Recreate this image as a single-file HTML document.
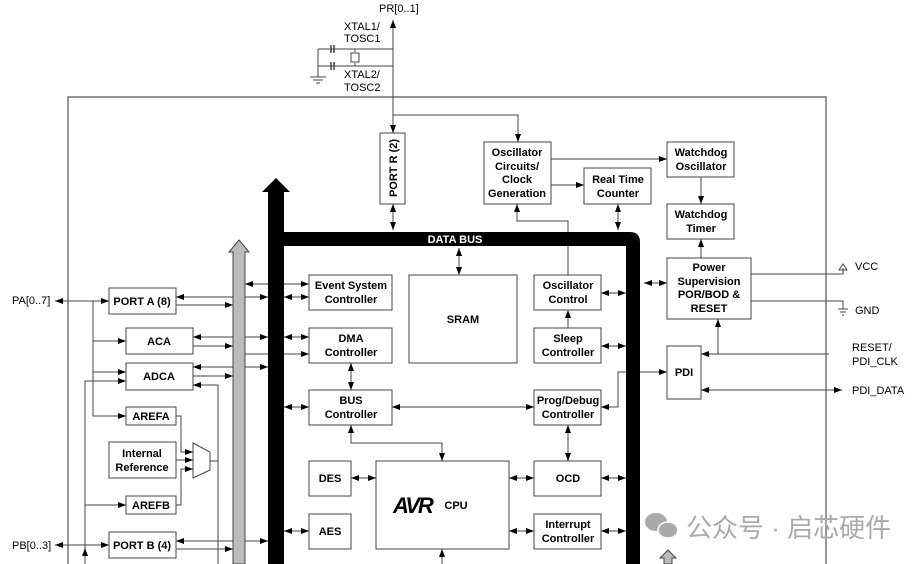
<!DOCTYPE html>
<html><head><meta charset="utf-8"><style>
html,body{margin:0;padding:0;background:#fff;}
svg{display:block;}
text{font-family:"Liberation Sans",Arial,sans-serif;}
.b{font-weight:bold;font-size:11px;fill:#000;}
.l{font-size:11px;fill:#000;}
</style></head><body>
<svg width="922" height="564" viewBox="0 0 922 564" xmlns="http://www.w3.org/2000/svg">
<defs>
<marker id="e" markerWidth="8" markerHeight="6" refX="8" refY="3" orient="auto" markerUnits="userSpaceOnUse"><path d="M0,0 L8,3 L0,6z" fill="#000"/></marker>
<marker id="s" markerWidth="8" markerHeight="6" refX="0" refY="3" orient="auto" markerUnits="userSpaceOnUse"><path d="M8,0 L0,3 L8,6z" fill="#000"/></marker>
</defs>
<g fill="none" stroke="#444" stroke-width="1">
<path d="M68,580 V97 H826 V580" stroke="#555" stroke-width="1.2"/>
<path d="M393,20 V133" marker-start="url(#s)" marker-end="url(#e)"/>
<path d="M318,49 H393 M318,66 H393 M318,49 V77"/>
<path d="M310,77 H326 M313,80 H323 M316,83 H320"/>
<path d="M331,45 V53 M334,45 V53 M331,62 V70 M334,62 V70" stroke-width="1.5"/>
<path d="M355,49 V52 M355,63 V66"/><rect x="351" y="53" width="8" height="9"/>
<path d="M393,115 H518 V142" marker-end="url(#e)"/>
<path d="M393,204 V230" marker-start="url(#s)" marker-end="url(#e)"/>
<path d="M551,159 H667" marker-end="url(#e)"/>
<path d="M551,185 H584" marker-end="url(#e)"/>
<path d="M701,177 V204" marker-end="url(#e)"/>
<path d="M701,258 V239" marker-end="url(#e)"/>
<path d="M568,275 V221 H517 V204" marker-end="url(#e)"/>
<path d="M618,204 V230" marker-start="url(#s)" marker-end="url(#e)"/>
<path d="M459,248 V275" marker-start="url(#s)" marker-end="url(#e)"/>
<path d="M751,274 H843 V268 M839,270 L843,264 L847,270 Z"/>
<path d="M751,301 H843 V309 M838,309 H848 M840,312 H846 M842,315 H844"/>
<path d="M829,354 H701" marker-end="url(#e)"/>
<path d="M718,354 V319" marker-end="url(#e)"/>
<path d="M701,390 H842" marker-start="url(#s)" marker-end="url(#e)"/>
<path d="M640,372 H667" marker-end="url(#e)"/>
<path d="M626,372 H618 V407 H601" marker-end="url(#e)"/>
<path d="M644,283 H667" marker-start="url(#s)" marker-end="url(#e)"/>
<path d="M601,293 H626" marker-start="url(#s)" marker-end="url(#e)"/>
<path d="M601,346 H626" marker-start="url(#s)" marker-end="url(#e)"/>
<path d="M601,478 H626" marker-start="url(#s)" marker-end="url(#e)"/>
<path d="M601,531 H626" marker-start="url(#s)" marker-end="url(#e)"/>
<path d="M509,478 H534" marker-start="url(#s)" marker-end="url(#e)"/>
<path d="M509,531 H534" marker-start="url(#s)" marker-end="url(#e)"/>
<path d="M392,407 H534" marker-start="url(#s)" marker-end="url(#e)"/>
<path d="M568,425 V461" marker-start="url(#s)" marker-end="url(#e)"/>
<path d="M568,328 V310" marker-end="url(#e)"/>
<path d="M351,363 V390" marker-start="url(#s)" marker-end="url(#e)"/>
<path d="M351,425 V443 H442 V461" marker-start="url(#s)" marker-end="url(#e)"/>
<path d="M442,564 V549" marker-end="url(#e)"/>
<path d="M351,478 H376" marker-start="url(#s)" marker-end="url(#e)"/>
<path d="M284,531 H309" marker-start="url(#s)" marker-end="url(#e)"/>
<path d="M284,407 H309" marker-start="url(#s)" marker-end="url(#e)"/>
<path d="M284,337 H309" marker-start="url(#s)" marker-end="url(#e)"/>
<path d="M284,297 H309" marker-start="url(#s)" marker-end="url(#e)"/>
<path d="M245,284 H309" marker-start="url(#s)" marker-end="url(#e)"/>
<path d="M245,354 H309" marker-end="url(#e)"/>
<path d="M245,297 H268" marker-end="url(#e)"/>
<path d="M245,337 H268" marker-end="url(#e)"/>
<path d="M245,367 H268" marker-end="url(#e)"/>
<path d="M245,541 H268" marker-end="url(#e)"/>
<path d="M233,297 H176" marker-end="url(#e)"/>
<path d="M176,305 H233" marker-end="url(#e)"/>
<path d="M233,337 H193" marker-end="url(#e)"/>
<path d="M193,346 H233" marker-end="url(#e)"/>
<path d="M233,367 H193" marker-end="url(#e)"/>
<path d="M193,376 H233" marker-end="url(#e)"/>
<path d="M233,541 H176" marker-end="url(#e)"/>
<path d="M176,549 H233" marker-end="url(#e)"/>
<path d="M218,564 V385 H193" marker-end="url(#e)"/>
<path d="M210,461 H218"/>
<path d="M176,416 H181 V452 H193" marker-end="url(#e)"/>
<path d="M176,460 H193" marker-end="url(#e)"/>
<path d="M176,505 H181 V469 H193" marker-end="url(#e)"/>
<path d="M193,443 L210,452 V470 L193,478 Z"/>
<path d="M55,301 H109" marker-start="url(#s)" marker-end="url(#e)"/>
<path d="M93,301 V416 H126" marker-end="url(#e)"/>
<path d="M93,341 H126" marker-end="url(#e)"/>
<path d="M93,372 H126" marker-end="url(#e)"/>
<path d="M85,564 V381 H126" marker-end="url(#e)"/>
<path d="M85,505 H126" marker-end="url(#e)"/>
<path d="M55,545 H109" marker-start="url(#s)" marker-end="url(#e)"/>
<path d="M85,564 V548" marker-end="url(#e)"/>
</g>
<path d="M233,564 V252 H229 L239,240 L249,252 H245 V564 Z" fill="#bbb" stroke="#444" stroke-width="1"/>
<path d="M268,564 V192 H262 L276,178 L290,192 H284 V232 H630 Q640,232 640,242 V564 H626 V246 H284 V564 Z" fill="#000"/>
<text x="455" y="243" font-size="11" font-weight="bold" fill="#fff" text-anchor="middle">DATA BUS</text>
<path d="M668,550 L676,558 H672 V564 H664 V558 H660 Z" fill="#bbb" stroke="#444"/>
<g fill="#fff" stroke="#444" stroke-width="1">
<rect x="380" y="133" width="25" height="71"/>
<rect x="484" y="142" width="67" height="62"/>
<rect x="584" y="168" width="67" height="36"/>
<rect x="667" y="142" width="67" height="35"/>
<rect x="667" y="204" width="67" height="35"/>
<rect x="667" y="258" width="84" height="61"/>
<rect x="667" y="346" width="34" height="53"/>
<rect x="309" y="275" width="83" height="35"/>
<rect x="309" y="328" width="83" height="35"/>
<rect x="309" y="390" width="83" height="35"/>
<rect x="409" y="275" width="108" height="88"/>
<rect x="534" y="275" width="67" height="35"/>
<rect x="534" y="328" width="67" height="35"/>
<rect x="534" y="390" width="67" height="35"/>
<rect x="309" y="461" width="42" height="35"/>
<rect x="309" y="514" width="42" height="35"/>
<rect x="376" y="461" width="133" height="88"/>
<rect x="534" y="461" width="67" height="35"/>
<rect x="534" y="514" width="67" height="35"/>
<rect x="109" y="288" width="67" height="26"/>
<rect x="126" y="328" width="67" height="26"/>
<rect x="126" y="363" width="67" height="27"/>
<rect x="126" y="407" width="50" height="18"/>
<rect x="109" y="442" width="67" height="36"/>
<rect x="126" y="496" width="50" height="18"/>
<rect x="109" y="532" width="67" height="26"/>
</g>
<g class="b" text-anchor="middle">
<text transform="translate(397,168) rotate(-90)" text-anchor="middle">PORT R (2)</text>
<text x="517" y="156">Oscillator</text><text x="517" y="170">Circuits/</text><text x="517" y="183">Clock</text><text x="517" y="197">Generation</text>
<text x="618" y="183">Real Time</text><text x="618" y="197">Counter</text>
<text x="701" y="156">Watchdog</text><text x="701" y="170">Oscillator</text>
<text x="701" y="218">Watchdog</text><text x="701" y="232">Timer</text>
<text x="709" y="271">Power</text><text x="709" y="285">Supervision</text><text x="709" y="298">POR/BOD &amp;</text><text x="709" y="312">RESET</text>
<text x="684" y="376">PDI</text>
<text x="351" y="289">Event System</text><text x="351" y="303">Controller</text>
<text x="351" y="342">DMA</text><text x="351" y="356">Controller</text>
<text x="351" y="404">BUS</text><text x="351" y="418">Controller</text>
<text x="463" y="323">SRAM</text>
<text x="568" y="289">Oscillator</text><text x="568" y="303">Control</text>
<text x="568" y="342">Sleep</text><text x="568" y="356">Controller</text>
<text x="568" y="404">Prog/Debug</text><text x="568" y="418">Controller</text>
<text x="330" y="482">DES</text><text x="330" y="535">AES</text>
<text x="568" y="482">OCD</text>
<text x="568" y="528">Interrupt</text><text x="568" y="542">Controller</text>
<text x="456" y="509">CPU</text>
<text x="142" y="305">PORT A (8)</text>
<text x="159" y="345">ACA</text>
<text x="159" y="380">ADCA</text>
<text x="151" y="420">AREFA</text>
<text x="142" y="457">Internal</text><text x="142" y="471">Reference</text>
<text x="151" y="509">AREFB</text>
<text x="142" y="549">PORT B (4)</text>
</g>
<text x="393" y="513" font-size="22" font-weight="bold" font-style="italic" fill="#000" letter-spacing="-2">AVR</text>
<g class="l">
<text x="379" y="12">PR[0..1]</text>
<text x="344" y="30">XTAL1/</text><text x="344" y="42">TOSC1</text>
<text x="344" y="78">XTAL2/</text><text x="344" y="91">TOSC2</text>
<text x="12" y="304">PA[0..7]</text>
<text x="12" y="549">PB[0..3]</text>
<text x="855" y="270">VCC</text>
<text x="855" y="314">GND</text>
<text x="852" y="351">RESET/</text><text x="852" y="365">PDI_CLK</text>
<text x="852" y="394">PDI_DATA</text>
</g>
<g fill="#aaa">
<ellipse cx="656" cy="522" rx="11" ry="9"/>
<ellipse cx="668" cy="530" rx="10" ry="8" stroke="#fff" stroke-width="1.5"/>
</g>
<text x="686" y="537" font-size="26" fill="#aaa" font-family="'Liberation Sans','Noto Sans CJK SC',sans-serif">公众号 · 启芯硬件</text>
</svg>
</body></html>
